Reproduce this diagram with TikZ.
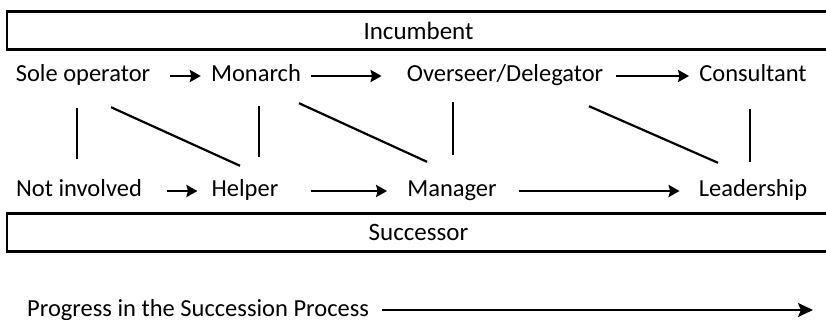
\documentclass[tikz,border=0pt]{standalone}
\usepackage{fontspec}
\setmainfont{Carlito}
\usetikzlibrary{arrows.meta}
\tikzset{
  lbl/.style={inner sep=0pt, anchor=base, text height=12pt, text depth=0pt, font=\fontsize{24.5}{28}\selectfont},
  band/.style={draw, line width=2.6pt, inner sep=0pt, minimum height=38pt, font=\fontsize{25}{28}\selectfont},
  flow/.style={line width=2.4pt, -{Stealth[length=11pt,width=12pt,inset=1.5pt]}},
  link/.style={line width=2.2pt},
  big/.style={line width=2.2pt, -{Stealth[length=15pt,width=14pt,inset=3pt]}}
}
\begin{document}
\begin{tikzpicture}[x=1pt,y=-1pt]
\useasboundingbox (0,0) rectangle (826,320);
\begin{scope}
\clip (0,0) rectangle (826,320);
\node[band, minimum width=823pt] (inc) at (418.5,30.5) {Incumbent};
\node[band, minimum width=823pt] (suc) at (418.5,232.5) {Successor};
\end{scope}
% row 1
\node[lbl] (so) at (83,82) {Sole operator};
\node[lbl] (mo) at (256,82) {Monarch};
\node[lbl] (ov) at (505,82) {Overseer/Delegator};
\node[lbl] (co) at (753,82) {Consultant};
% row 2
\node[lbl] (ni) at (79,197) {Not involved};
\node[lbl] (hp) at (245,197) {Helper};
\node[lbl] (mg) at (452,197) {Manager};
\node[lbl] (le) at (753,197) {Leadership};
% progress
\node[lbl, anchor=base west] (pr) at (27,316) {Progress in the Succession Process};
\coordinate (prend) at (813,310);
% arrows row 1
\draw[flow] ([xshift=20pt]so.east) -- ([xshift=-10pt]mo.west);
\draw[flow] ([xshift=10pt]mo.east) -- ([xshift=-25pt]ov.west);
\draw[flow] ([xshift=13pt]ov.east) -- ([xshift=-10pt]co.west);
% arrows row 2
\draw[flow] ([xshift=25pt]ni.east) -- ([xshift=-14pt]hp.west);
\draw[flow] ([xshift=32pt]hp.east) -- ([xshift=-20pt]mg.west);
\draw[flow] ([xshift=22pt]mg.east) -- ([xshift=-19pt]le.west);
% links
\draw[link] ([shift={(-6,26)}]so.south) -- ([shift={(-2,-26)}]ni.north);
\draw[link] ([shift={(28,25)}]so.south) -- ([shift={(-5,-19)}]hp.north);
\draw[link] ([shift={(3,24)}]mo.south) -- ([shift={(14,-28)}]hp.north);
\draw[link] ([shift={(43,21)}]mo.south) -- ([shift={(-25,-23)}]mg.north);
\draw[link] ([shift={(-52,20)}]ov.south) -- ([shift={(1,-30)}]mg.north);
\draw[link] ([shift={(84,24)}]ov.south) -- ([shift={(-35,-22)}]le.north);
\draw[link] ([shift={(-3,27)}]co.south) -- ([shift={(-3,-23)}]le.north);
% progress arrow
\draw[big] ([shift={(13,-6)}]pr.base east) -- (prend);
\end{tikzpicture}
\end{document}
